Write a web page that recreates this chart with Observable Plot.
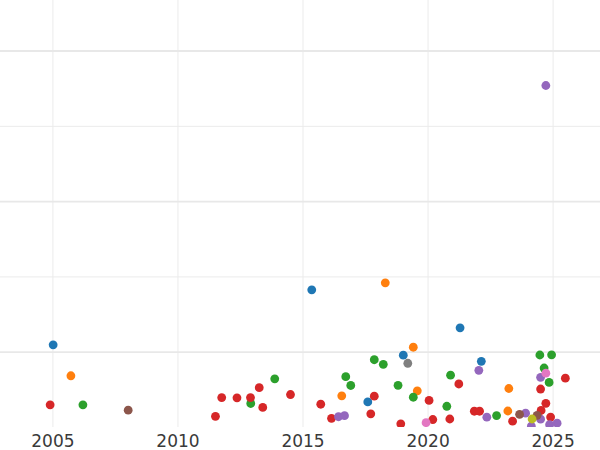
<!DOCTYPE html>
<html><head><meta charset="utf-8">
<script src="https://cdn.jsdelivr.net/npm/d3@7"></script>
<script src="https://cdn.jsdelivr.net/npm/@observablehq/plot@0.6"></script>
<style>body{margin:0;background:#fff;overflow:hidden}</style>
</head><body><div id="chart"></div>
<script>
const groups = ["Group 1","Group 2","Group 3","Group 4","Group 5","Group 6","Group 7","Group 8","Group 9"];
const colors = ["#1f77b4","#ff7f0e","#2ca02c","#d62728","#9467bd","#8c564b","#e377c2","#7f7f7f","#bcbd22"];

const years1 = [2005.01, 2015.35, 2017.59, 2019.01, 2021.28, 2022.13];
const values1 = [1.098, 1.829, 0.339, 0.960, 1.324, 0.879];

const years2 = [2005.72, 2018.29, 2016.55, 2019.41, 2019.57, 2023.23, 2023.19];
const values2 = [0.687, 1.922, 0.421, 1.066, 0.487, 0.518, 0.219];

const years3 = [2006.20, 2012.91, 2013.87, 2016.71, 2016.91, 2017.85, 2018.21, 2018.80, 2019.41, 2020.75, 2020.90, 2022.74, 2024.47, 2024.94, 2024.64, 2024.84];
const values3 = [0.301, 0.319, 0.647, 0.675, 0.558, 0.900, 0.839, 0.560, 0.402, 0.282, 0.695, 0.159, 0.963, 0.965, 0.790, 0.598];

const years4 = [2004.89, 2011.50, 2011.75, 2012.36, 2012.90, 2013.25, 2013.39, 2014.50, 2015.71, 2016.14, 2017.71, 2017.85, 2018.91, 2020.04, 2020.19, 2020.87, 2021.23, 2021.85, 2022.06, 2023.38, 2024.50, 2024.71, 2024.52, 2024.90, 2025.49];
const values4 = [0.301, 0.149, 0.398, 0.394, 0.398, 0.529, 0.266, 0.438, 0.309, 0.122, 0.182, 0.416, 0.049, 0.359, 0.106, 0.113, 0.578, 0.216, 0.216, 0.084, 0.511, 0.321, 0.226, 0.139, 0.655];

const years5 = [2016.42, 2016.66, 2022.03, 2022.35, 2023.90, 2024.13, 2024.50, 2024.50, 2024.71, 2024.86, 2025.16];
const values5 = [0.143, 0.157, 0.760, 0.137, 0.190, 0.017, 0.110, 0.667, 4.542, 0.037, 0.057];

const years6 = [2008.01, 2023.66, 2024.36];
const values6 = [0.230, 0.175, 0.162];

const years7 = [2019.92, 2024.71];
const values7 = [0.064, 0.721];

const years8 = [2019.19];
const values8 = [0.853];

const years9 = [2024.16];
const values9 = [0.113];

const xTicks = [2005, 2010, 2015, 2020, 2025];
const majorY = [1, 3, 5];
const minorY = [2, 4];

const allYears = [years1, years2, years3, years4, years5, years6, years7, years8, years9];
const allValues = [values1, values2, values3, values4, values5, values6, values7, values8, values9];
const points = [];
allYears.forEach((ys, i) => ys.forEach((y, j) => points.push({group: groups[i], year: y, value: allValues[i][j]})));

const chart = Plot.plot({
  width: 600,
  height: 450,
  marginLeft: 0,
  marginRight: 0,
  marginTop: 0,
  marginBottom: 23,
  style: {fontFamily: "DejaVu Sans", fontSize: "17px", color: "#3a3a3a", background: "#fff", overflow: "visible"},
  x: {domain: [2002.905, 2026.895], ticks: xTicks, tickFormat: d => String(d), tickSize: 0, tickPadding: 7, label: null},
  y: {domain: [0, 5.671], axis: null},
  color: {domain: groups, range: colors},
  marks: [
    Plot.ruleX(xTicks, {stroke: "#ebebeb", strokeWidth: 1, strokeOpacity: 1}),
    Plot.ruleY(minorY, {stroke: "#ebebeb", strokeWidth: 1, strokeOpacity: 1}),
    Plot.ruleY(majorY, {stroke: "#e8e8e8", strokeWidth: 1.8, strokeOpacity: 1}),
    Plot.dot(points, {x: "year", y: "value", fill: "group", r: 4.4, clip: true})
  ]
});
document.getElementById("chart").appendChild(chart);
</script>
</body></html>
